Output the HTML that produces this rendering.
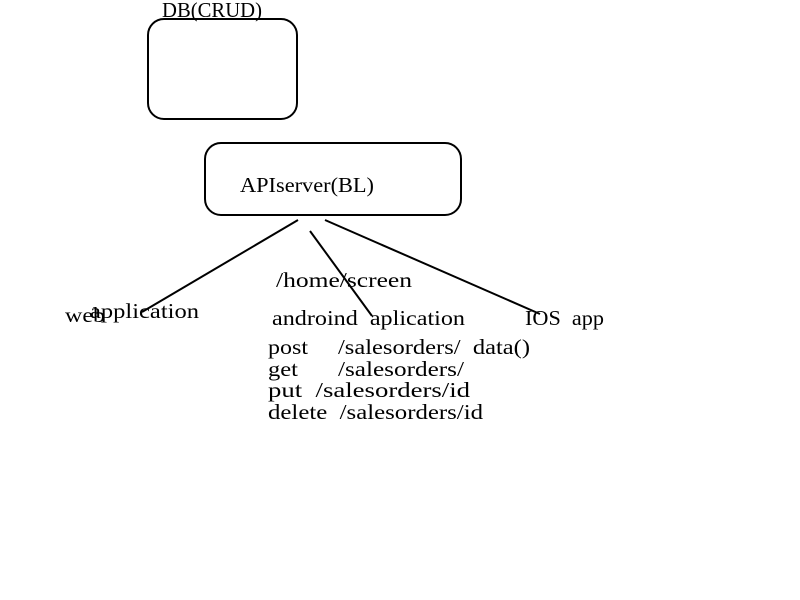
<!DOCTYPE html>
<html><head><meta charset="utf-8"><style>
html,body{margin:0;padding:0;background:#fff;}
svg{display:block;}
text{font-family:"Liberation Serif",serif;font-size:21px;fill:#000;}
</style></head><body>
<svg width="800" height="600" viewBox="0 0 800 600" xmlns="http://www.w3.org/2000/svg">
<rect x="148" y="19" width="149" height="100" rx="16" ry="16" fill="none" stroke="#000" stroke-width="2"/>
<rect x="205" y="143" width="256" height="72" rx="16" ry="16" fill="none" stroke="#000" stroke-width="2"/>
<text x="162" y="17" textLength="100" lengthAdjust="spacingAndGlyphs">DB(CRUD)</text>
<text x="240" y="192" textLength="134" lengthAdjust="spacingAndGlyphs">APIserver(BL)</text>
<g stroke="#000" stroke-width="2" fill="none">
<line x1="298" y1="220" x2="142" y2="312"/>
<line x1="310" y1="231" x2="372" y2="316"/>
<line x1="325" y1="220" x2="540" y2="314"/>
</g>
<text x="276" y="287" textLength="136" lengthAdjust="spacingAndGlyphs">/home/screen</text>
<text x="65" y="322" textLength="40" lengthAdjust="spacingAndGlyphs">web</text>
<text x="90" y="318" textLength="109" lengthAdjust="spacingAndGlyphs">application</text>
<text x="272" y="325" textLength="193" lengthAdjust="spacingAndGlyphs">androind&#160; aplication</text>
<text x="525" y="325" textLength="79" lengthAdjust="spacingAndGlyphs">IOS&#160; app</text>
<text x="268" y="354" textLength="40" lengthAdjust="spacingAndGlyphs">post</text>
<text x="338" y="354" textLength="192" lengthAdjust="spacingAndGlyphs">/salesorders/&#160; data()</text>
<text x="268" y="376" textLength="30" lengthAdjust="spacingAndGlyphs">get</text>
<text x="338" y="376" textLength="126" lengthAdjust="spacingAndGlyphs">/salesorders/</text>
<text x="268" y="397" textLength="202" lengthAdjust="spacingAndGlyphs">put&#160; /salesorders/id</text>
<text x="268" y="419" textLength="215" lengthAdjust="spacingAndGlyphs">delete&#160; /salesorders/id</text>
</svg>
</body></html>
